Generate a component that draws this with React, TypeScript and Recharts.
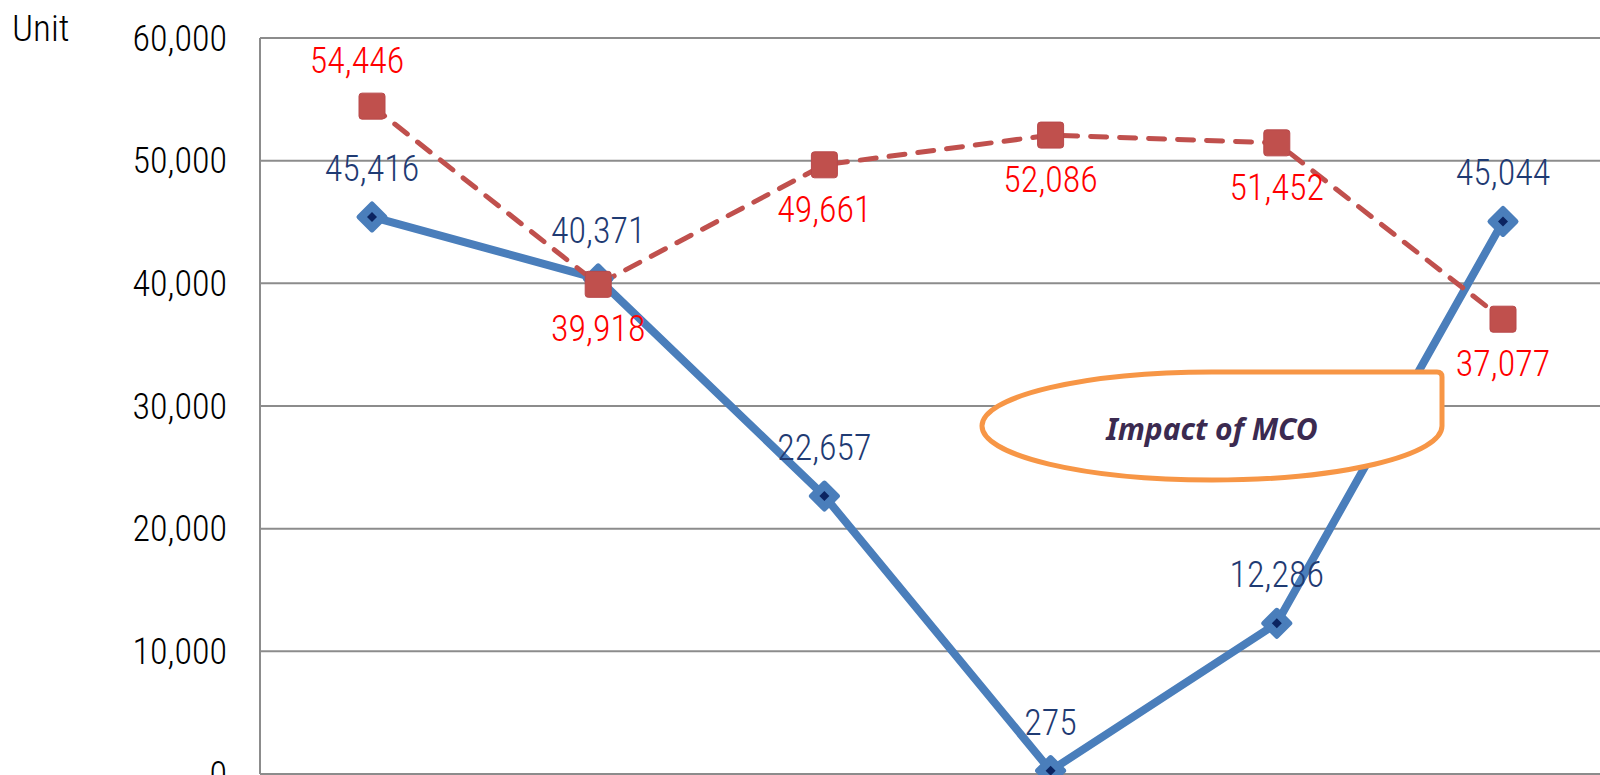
import { LineChart, Line, XAxis, YAxis, CartesianGrid, LabelList } from "recharts"

const months = ["Jan", "Feb", "Mar", "Apr", "May", "Jun"]
const sales2020 = [45416, 40371, 22657, 275, 12286, 45044]
const sales2019 = [54446, 39918, 49661, 52086, 51452, 37077]
const yTicks = [0, 10000, 20000, 30000, 40000, 50000, 60000]

const data = months.map((m, i) => ({ month: m, y2020: sales2020[i], y2019: sales2019[i] }))

const FONT = "'Roboto Condensed', Roboto, sans-serif"
const BLUE = "#4a7ebb"
const NAVY = "#0b2461"
const RED = "#c0504d"

const fmt = (v: number) => v.toLocaleString("en-US")

const Diamond = (props: any) => {
  const { cx, cy } = props
  if (cx == null || cy == null) return null
  const r = 13
  const s = 5
  return (
    <g>
      <path
        d={`M${cx} ${cy - r} L${cx + r} ${cy} L${cx} ${cy + r} L${cx - r} ${cy} Z`}
        fill={BLUE}
        stroke={BLUE}
        strokeWidth={5}
        strokeLinejoin="round"
      />
      <path d={`M${cx} ${cy - s} L${cx + s} ${cy} L${cx} ${cy + s} L${cx - s} ${cy} Z`} fill={NAVY} />
    </g>
  )
}

const Square = (props: any) => {
  const { cx, cy } = props
  if (cx == null || cy == null) return null
  return <rect x={cx - 13} y={cy - 13} width={26} height={26} rx={3} fill={RED} stroke="#b8484a" strokeWidth={1} />
}

const blueLabel = (p: any) => (
  <text
    x={p.x}
    y={p.y - 48}
    textAnchor="middle"
    dominantBaseline="central"
    fill="#1f3b73"
    fontFamily={FONT}
    fontWeight={300}
    fontSize={36}
  >
    {fmt(p.value)}
  </text>
)

const redLabel = (p: any) => (
  <text
    x={p.index === 0 ? p.x - 15 : p.x}
    y={p.index === 0 ? p.y - 45 : p.y + 45}
    textAnchor="middle"
    dominantBaseline="central"
    fill="#ff0000"
    fontFamily={FONT}
    fontWeight={300}
    fontSize={36}
  >
    {fmt(p.value)}
  </text>
)

export default function App() {
  return (
    <div
      style={{
        position: "absolute",
        top: 0,
        left: 0,
        width: 1600,
        height: 775,
        overflow: "hidden",
        background: "#fff",
      }}
    >
      <style>{`html, body { margin: 0; overflow: hidden; }`}</style>
      <LineChart width={1600} height={775} data={data} margin={{ top: 38, right: 0, left: 0, bottom: 1 }}>
        <CartesianGrid vertical={false} stroke="#8c8c8c" strokeWidth={2} />
        <XAxis
          dataKey="month"
          height={0}
          padding={{ left: 112, right: 97 }}
          axisLine={{ stroke: "#8c8c8c", strokeWidth: 2 }}
          tickLine={false}
          tick={false}
        />
        <YAxis
          width={260}
          domain={[0, 60000]}
          ticks={yTicks}
          interval={0}
          tickFormatter={fmt}
          axisLine={{ stroke: "#8c8c8c", strokeWidth: 2 }}
          tickLine={false}
          tickMargin={27}
          tick={{ fontFamily: FONT, fontWeight: 300, fontSize: 36, fill: "#000" }}
        />
        <Line
          dataKey="y2020"
          stroke={BLUE}
          strokeWidth={8}
          dot={<Diamond />}
          activeDot={false}
          isAnimationActive={false}
        >
          <LabelList dataKey="y2020" content={blueLabel} />
        </Line>
        <Line
          dataKey="y2019"
          stroke={RED}
          strokeWidth={5}
          strokeDasharray="16 13"
          strokeLinecap="round"
          dot={<Square />}
          activeDot={false}
          isAnimationActive={false}
        >
          <LabelList dataKey="y2019" content={redLabel} />
        </Line>
      </LineChart>
      <svg
        width={1600}
        height={775}
        style={{ position: "absolute", top: 0, left: 0, pointerEvents: "none" }}
      >
        <text x={12} y={41} fontFamily={FONT} fontWeight={300} fontSize={37} fill="#000">
          Unit
        </text>
        <path
          d="M1213 372 L1437 372 Q1442 372 1442 377 L1442 426 A230 54 0 1 1 1213 372 Z"
          fill="#fff"
          stroke="#f79646"
          strokeWidth={5}
          strokeLinejoin="round"
        />
        <text
          x={1212}
          y={428}
          textAnchor="middle"
          dominantBaseline="central"
          fontFamily="'Noto Sans', 'Open Sans', sans-serif"
          fontStyle="italic"
          fontWeight={700}
          fontSize={30}
          fill="#3b2a50"
        >
          Impact of MCO
        </text>
      </svg>
    </div>
  )
}
